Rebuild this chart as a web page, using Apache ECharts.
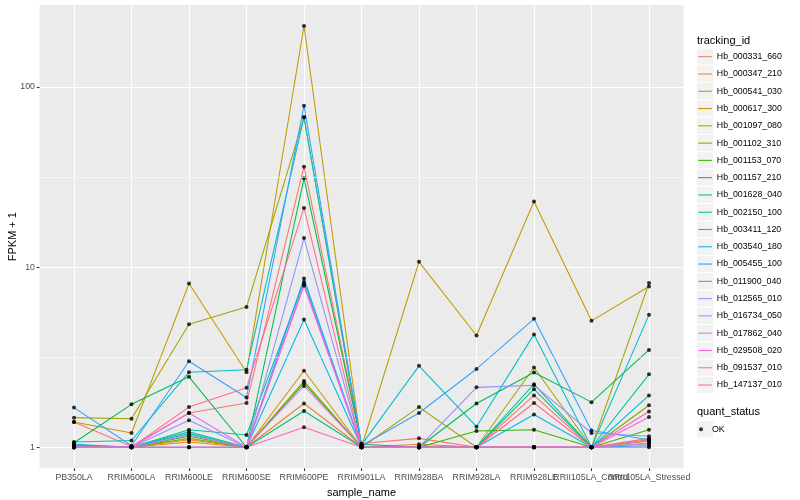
<!DOCTYPE html>
<html><head><meta charset="utf-8">
<script src="https://cdn.jsdelivr.net/npm/echarts@6/dist/echarts.min.js"></script>
<style>html,body{margin:0;padding:0;background:#fff}#c{width:800px;height:500px}</style>
</head><body><div id="c"></div>
<script>
// ---- data ----
const categories = ['PB350LA','RRIM600LA','RRIM600LE','RRIM600SE','RRIM600PE','RRIM901LA','RRIM928BA','RRIM928LA','RRIM928LE','RRII105LA_Control','RRII105LA_Stressed'];
const trackingIds = ['Hb_000331_660','Hb_000347_210','Hb_000541_030','Hb_000617_300','Hb_001097_080','Hb_001102_310','Hb_001153_070','Hb_001157_210','Hb_001628_040','Hb_002150_100','Hb_003411_120','Hb_003540_180','Hb_005455_100','Hb_011900_040','Hb_012565_010','Hb_016734_050','Hb_017862_040','Hb_029508_020','Hb_091537_010','Hb_147137_010'];
const lineColors = ['#F8766D','#EA8331','#D89000','#C09B00','#A3A500','#7CAE00','#39B600','#00BB4E','#00BF7D','#00C1A3','#00BFC4','#00BAE0','#00B0F6','#35A2FF','#9590FF','#C77CFF','#E76BF3','#FA62DB','#FF62BC','#FF6C91'];

const hb_000331_660 = [1.38, 1.01, 1.55, 1.76, 36.1, 1.05, 1.12, 1.0, 1.94, 1.0, 1.12];
const hb_000347_210 = [1.02, 1.0, 1.10, 1.0, 1.75, 1.0, 1.04, 1.0, 1.0, 1.0, 1.10];
const hb_000541_030 = [1.0, 1.0, 1.07, 1.0, 2.66, 1.0, 1.0, 1.0, 1.0, 1.0, 1.08];
const hb_000617_300 = [1.38, 1.20, 8.1, 2.61, 218, 1.0, 10.7, 4.17, 23.1, 5.03, 7.8];
const hb_001097_080 = [1.46, 1.44, 4.82, 6.0, 67.9, 1.0, 1.67, 1.0, 2.77, 1.0, 8.15];
const hb_001102_310 = [1.0, 1.0, 1.12, 1.0, 2.33, 1.0, 1.0, 1.0, 1.0, 1.0, 1.71];
const hb_001153_070 = [1.0, 1.0, 1.15, 1.0, 2.27, 1.0, 1.0, 1.23, 1.25, 1.0, 1.25];
const hb_001157_210 = [1.06, 1.73, 2.46, 1.0, 31.1, 1.04, 1.0, 1.75, 2.6, 1.78, 3.47];
const hb_001628_040 = [1.0, 1.0, 1.22, 1.0, 1.59, 1.0, 1.0, 1.0, 2.10, 1.0, 1.05];
const hb_002150_100 = [1.03, 1.0, 1.25, 1.17, 8.27, 1.0, 1.0, 1.0, 2.24, 1.0, 2.54];
const hb_003411_120 = [1.07, 1.09, 2.61, 2.69, 67.9, 1.03, 2.83, 1.30, 4.23, 1.0, 5.43];
const hb_003540_180 = [1.0, 1.0, 1.19, 1.0, 5.12, 1.0, 1.0, 1.0, 1.52, 1.0, 1.94];
const hb_005455_100 = [1.04, 1.0, 1.0, 1.0, 8.65, 1.0, 1.0, 1.0, 1.0, 1.0, 1.02];
const hb_011900_040 = [1.66, 1.02, 3.0, 1.89, 78.7, 1.02, 1.55, 2.72, 5.16, 1.24, 1.10];
const hb_012565_010 = [1.0, 1.0, 1.41, 1.0, 14.5, 1.0, 1.0, 2.15, 2.21, 1.20, 1.15];
const hb_016734_050 = [1.0, 1.0, 1.17, 1.0, 8.03, 1.0, 1.0, 1.0, 1.0, 1.0, 1.05];
const hb_017862_040 = [1.0, 1.0, 1.55, 1.0, 2.19, 1.0, 1.0, 1.0, 1.0, 1.0, 1.09];
const hb_029508_020 = [1.0, 1.0, 1.0, 1.0, 7.87, 1.0, 1.0, 1.0, 1.0, 1.0, 1.47];
const hb_091537_010 = [1.0, 1.0, 1.0, 1.0, 1.29, 1.0, 1.0, 1.0, 1.0, 1.0, 1.58];
const hb_147137_010 = [1.0, 1.0, 1.67, 2.14, 21.3, 1.0, 1.0, 1.0, 1.76, 1.0, 1.0];

const seriesValues = [hb_000331_660, hb_000347_210, hb_000541_030, hb_000617_300, hb_001097_080, hb_001102_310, hb_001153_070, hb_001157_210, hb_001628_040, hb_002150_100, hb_003411_120, hb_003540_180, hb_005455_100, hb_011900_040, hb_012565_010, hb_016734_050, hb_017862_040, hb_029508_020, hb_091537_010, hb_147137_010];

const yTicks = [1, 10, 100];
const yTickLabels = ['1', '10', '100'];
const yMinorBreaks = [3.1623, 31.623];
const xTicks = categories.map((c, i) => i);
// labels of the two right-most categories overlap (as in the original); draw one of them on a twin axis
const xTicksMain = xTicks.filter(i => i !== 9);
const xTicksTwin = [9];

// ---- chart ----
const FONT = 'Liberation Sans, Arial, Helvetica, sans-serif';
const chart = echarts.init(document.getElementById('c'), null, {renderer: 'canvas'});

const series = [];
series.push({
  name: '_minor', type: 'line', data: [], silent: true, z: 1, animation: false,
  markLine: {
    silent: true, symbol: 'none', label: {show: false}, animation: false,
    lineStyle: {color: '#ffffff', width: 0.55, type: 'solid', opacity: 1},
    emphasis: {disabled: true},
    data: yMinorBreaks.map(v => ({yAxis: v}))
  }
});
trackingIds.forEach((id, k) => {
  series.push({
    name: id, type: 'line', color: lineColors[k],
    data: seriesValues[k].map((v, i) => [i, v]),
    showSymbol: false, symbol: 'none', z: 2, animation: false,
    lineStyle: {width: 1.07, color: lineColors[k]},
    emphasis: {disabled: true}
  });
});
const allPoints = [];
seriesValues.forEach(arr => arr.forEach((v, i) => allPoints.push([i, v])));
series.push({
  name: 'OK', type: 'scatter', data: allPoints, symbol: 'circle', symbolSize: 4,
  itemStyle: {color: '#000000'}, z: 3, animation: false, emphasis: {disabled: true}, color: '#000000'
});

const KEY = 17.28;
const keyTop0 = 48.06;
const graphics = [];
trackingIds.forEach((id, k) => {
  graphics.push({type: 'rect', z: -1, silent: true,
    shape: {x: 696.5, y: keyTop0 + k * KEY, width: KEY, height: KEY},
    style: {fill: '#F2F2F2', stroke: '#ffffff', lineWidth: 1}});
});
graphics.push({type: 'rect', z: -1, silent: true,
  shape: {x: 696.5, y: 420.7, width: KEY, height: KEY},
  style: {fill: '#F2F2F2', stroke: '#ffffff', lineWidth: 1}});
graphics.push({type: 'text', silent: true, style: {text: 'tracking_id', x: 697, y: 40.7, fontSize: 11, fontFamily: FONT, fill: '#000', verticalAlign: 'middle'}});
graphics.push({type: 'text', silent: true, style: {text: 'quant_status', x: 697, y: 412.3, fontSize: 11, fontFamily: FONT, fill: '#000', verticalAlign: 'middle'}});

const xAxisBase = (ticks) => ({
  type: 'value', min: -0.6, max: 10.6, position: 'bottom', gridIndex: 0,
  axisLine: {show: false, onZero: false},
  axisTick: {show: true, length: 2.7, lineStyle: {color: '#333333', width: 1.07}, customValues: ticks},
  axisLabel: {customValues: ticks, color: '#4D4D4D', fontSize: 8.8, margin: 5, fontFamily: FONT,
    formatter: v => categories[Math.round(v)], hideOverlap: false, showMinLabel: true, showMaxLabel: true}
});

chart.setOption({
  animation: false,
  textStyle: {fontFamily: FONT},
  grid: {left: 39.5, top: 5, right: 116.5, bottom: 31.7, show: true, backgroundColor: '#EBEBEB', borderWidth: 0,
    containLabel: false, outerBoundsMode: 'none'},
  xAxis: [
    Object.assign(xAxisBase(xTicksMain), {
      splitLine: {show: true, lineStyle: {color: '#ffffff', width: 1.07}},
      name: 'sample_name', nameLocation: 'middle', nameGap: 19, nameMoveOverlap: false,
      nameTextStyle: {fontSize: 11, color: '#000', fontFamily: FONT}
    }),
    Object.assign(xAxisBase(xTicksTwin), {
      splitLine: {show: true, lineStyle: {color: '#ffffff', width: 1.07}}, offset: 0
    })
  ],
  yAxis: {
    type: 'log', logBase: 10, min: 0.764, max: 285,
    axisLine: {show: false, onZero: false},
    axisTick: {show: true, length: 2.7, lineStyle: {color: '#333333', width: 1.07}, customValues: yTicks},
    axisLabel: {customValues: yTicks, color: '#4D4D4D', fontSize: 8.8, margin: 4.5, fontFamily: FONT,
      formatter: v => yTickLabels[yTicks.indexOf(Math.round(v))] ?? '', showMinLabel: true, showMaxLabel: true},
    splitLine: {show: true, lineStyle: {color: '#ffffff', width: 1.07}},
    name: 'FPKM + 1', nameLocation: 'middle', nameGap: 21, nameMoveOverlap: false,
    nameTextStyle: {fontSize: 11, color: '#000', fontFamily: FONT}
  },
  legend: [{
    orient: 'vertical', left: 698.2, top: keyTop0, padding: 0, itemGap: 0,
    itemWidth: 13.6, itemHeight: 1.07, icon: 'rect',
    data: trackingIds, selectedMode: false,
    textStyle: {fontSize: 8.8, color: '#000', lineHeight: KEY, fontFamily: FONT, padding: [0, 0, 0, 0]}
  }, {
    orient: 'vertical', left: 699, top: 420.7, padding: 0, itemGap: 0,
    itemWidth: 12, itemHeight: 4, icon: 'circle',
    data: ['OK'], selectedMode: false,
    textStyle: {fontSize: 8.8, color: '#000', lineHeight: KEY, fontFamily: FONT}
  }],
  graphic: graphics,
  series: series
});
</script></body></html>
